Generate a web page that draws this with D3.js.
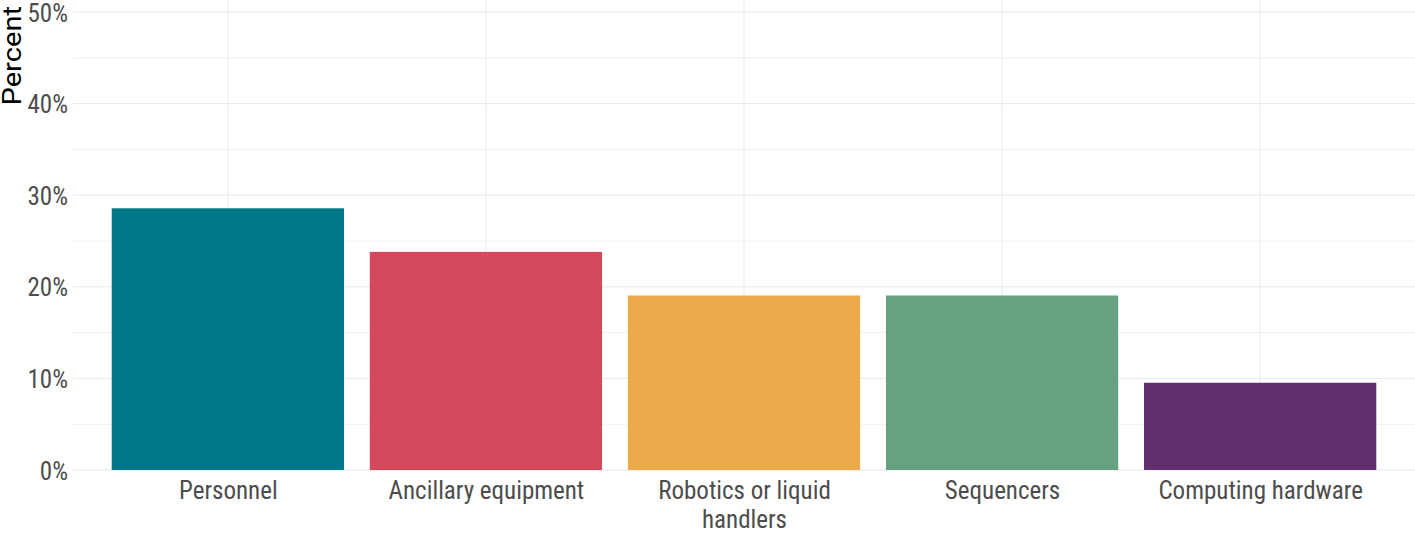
<!DOCTYPE html>
<html>
<head>
<meta charset="utf-8">
<script src="https://cdn.jsdelivr.net/npm/d3@7"></script>
<style>
  body { margin: 0; background: #fff; }
  text { font-family: "Roboto Condensed", "Liberation Sans Narrow", "DejaVu Sans Condensed", Roboto, sans-serif; }
</style>
</head>
<body>
<div id="chart"></div>
<script>
// Data
const categories = ['Personnel', 'Ancillary equipment', 'Robotics or liquid handlers', 'Sequencers', 'Computing hardware'];
const values = [28.57, 23.81, 19.05, 19.05, 9.52];
const barColors = ['#00788a', '#d4495c', '#ecab4a', '#66a182', '#622f6e'];
const yTicks = [0, 10, 20, 30, 40, 50];
const yMinor = [5, 15, 25, 35, 45];

const width = 1415, height = 536;
const margin = { left: 73, right: 0, top: 12, bottom: 66 };

const svg = d3.select('#chart')
  .append('svg')
  .attr('width', width)
  .attr('height', height);

// x: discrete with 0.6 expansion on each side
const step = (width - margin.left - margin.right) / (categories.length - 1 + 1.2);
const x = d3.scalePoint()
  .domain(categories)
  .range([margin.left + 0.6 * step, width - margin.right - 0.6 * step]);
const barW = step * 0.9;

const y = d3.scaleLinear()
  .domain([0, 50])
  .range([height - margin.bottom, margin.top]);

// grid
const grid = svg.append('g');
grid.selectAll('line.minor')
  .data(yMinor)
  .join('line')
  .attr('x1', margin.left).attr('x2', width)
  .attr('y1', d => y(d)).attr('y2', d => y(d))
  .attr('stroke', '#f0f0f0').attr('stroke-width', 1);
grid.selectAll('line.major')
  .data(yTicks)
  .join('line')
  .attr('x1', margin.left).attr('x2', width)
  .attr('y1', d => y(d)).attr('y2', d => y(d))
  .attr('stroke', '#e8e8e8').attr('stroke-width', 1);
grid.selectAll('line.vert')
  .data(categories)
  .join('line')
  .attr('x1', d => x(d)).attr('x2', d => x(d))
  .attr('y1', 0).attr('y2', y(0))
  .attr('stroke', '#ebebeb').attr('stroke-width', 1);

// bars
svg.append('g')
  .selectAll('rect')
  .data(categories)
  .join('rect')
  .attr('x', d => x(d) - barW / 2)
  .attr('width', barW)
  .attr('y', (d, i) => y(values[i]))
  .attr('height', (d, i) => y(0) - y(values[i]))
  .attr('fill', (d, i) => barColors[i]);

// y axis
const yAxis = svg.append('g')
  .attr('transform', `translate(${margin.left},0)`)
  .call(d3.axisLeft(y).tickValues(yTicks).tickFormat(d => d + '%').tickSize(0).tickPadding(5));
yAxis.select('.domain').remove();
yAxis.selectAll('text')
  .attr('font-size', 25)
  .attr('fill', '#4d4d4d')
  .attr('dy', '0.36em')
  .style('font-family', null);

// x axis
const xAxis = svg.append('g')
  .attr('transform', `translate(0,${y(0)})`)
  .call(d3.axisBottom(x).tickSize(0).tickPadding(11));
xAxis.select('.domain').remove();
xAxis.selectAll('text')
  .attr('font-size', 25)
  .attr('fill', '#4d4d4d')
  .attr('dy', '0.71em')
  .style('font-family', null)
  .each(function(d) {
    if (d === 'Robotics or liquid handlers') {
      const t = d3.select(this);
      t.text(null);
      t.append('tspan').attr('x', 0).attr('dy', '0.71em').text('Robotics or liquid');
      t.append('tspan').attr('x', 0).attr('dy', '1.18em').text('handlers');
      t.attr('dy', null);
    }
  });

// y title
svg.append('text')
  .attr('transform', 'translate(21,6) rotate(-90) scale(1.12,1)')
  .attr('text-anchor', 'end')
  .attr('font-size', 26)
  .attr('fill', '#000')
  .style('font-family', 'Roboto, sans-serif')
  .text('Percent');
</script>
</body>
</html>
